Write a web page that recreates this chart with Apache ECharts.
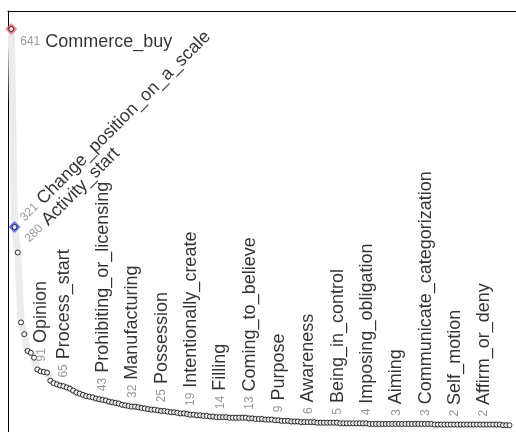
<!DOCTYPE html>
<html><head><meta charset="utf-8">
<script src="https://cdn.jsdelivr.net/npm/echarts@6/dist/echarts.min.js"></script>
<style>html,body{margin:0;padding:0;background:#fff}#c{width:516px;height:432px}</style>
</head><body><div id="c"></div>
<script>
// frequency of each frame, ranked
const values = [641,321,280,167,148,121,118,110,91,88,
87,86,73,69,67,65,64,62,60,57,
54,52,50,48,47,46,44,43,42,41,
39,38,37,36,34,33,32,31,31,30,
29,28,27,26,26,25,24,24,23,22,
22,21,20,20,19,18,18,17,17,16,
16,15,15,14,14,14,14,13,13,13,
13,13,13,12,12,11,11,11,10,10,
10,9,9,8,8,8,7,7,7,6,
6,6,6,6,5,5,5,5,5,5,
5,4,4,4,4,4,4,4,4,4,
3,3,3,3,3,3,3,3,3,3,
3,3,3,3,3,3,3,3,3,3,
2,2,2,2,2,2,2,2,2,2,
2,2,2,2,2,2,2,2,2,2,
2,1,1,1];
const labelIndex = [0,1,2,8,15,27,36,45,54,63,72,81,90,99,108,117,126,135,144];
const labelNames = ['Commerce_buy','Change_position_on_a_scale','Activity_start','Opinion','Process_start',
  'Prohibiting_or_licensing','Manufacturing','Possession','Intentionally_create','Filling',
  'Coming_to_believe','Purpose','Awareness','Being_in_control','Imposing_obligation','Aiming',
  'Communicate_categorization','Self_motion','Affirm_or_deny'];
const highlightNames = ['Commerce_buy','Change_position_on_a_scale'];
const highlightColors = ['#ee6470','#4a58f0'];

const FONT = 'Liberation Sans, Arial, sans-serif';
const rich = {
  n: {fontSize: 12, color: '#808080', fontFamily: FONT},
  t: {fontSize: 18, color: '#000', fontFamily: FONT}
};
function labelFor(k) {
  const base = {show: true, rich: rich, formatter: '{n|' + values[labelIndex[k]] + '}{t| ' + labelNames[k] + '}',
    align: 'left', verticalAlign: 'middle'};
  if (k === 0) return Object.assign(base, {position: 'right', distance: 6, offset: [0, 13], rotate: 0});
  if (k === 1) return Object.assign(base, {position: 'top', distance: 4, offset: [6, 5], rotate: 45});
  if (k === 2) return Object.assign(base, {position: 'top', distance: 4, offset: [10, 3], rotate: 45});
  return Object.assign(base, {position: 'top', distance: 5, offset: [0, 4], rotate: 90});
}
const pts = values.map((v, i) => {
  const k = labelIndex.indexOf(i);
  const d = {value: [i, v]};
  if (k >= 0) d.label = labelFor(k);
  return d;
});
const hl = highlightNames.map((nm, j) => {
  const i = labelIndex[labelNames.indexOf(nm)];
  return {value: [i, values[i]], itemStyle: {color: highlightColors[j]}};
});

const chart = echarts.init(document.getElementById('c'));
chart.setOption({
  animation: false,
  grid: {left: 8, right: 0, top: 11, bottom: 0},
  xAxis: {type: 'value', position: 'top', min: -1, max: 155,
    axisLine: {show: true, onZero: false, lineStyle: {color: '#000', width: 1}}, axisTick: {show: false},
    axisLabel: {show: false}, splitLine: {show: false}},
  yAxis: {type: 'value', min: -10, max: 670,
    axisLine: {show: true, onZero: false, lineStyle: {color: '#000', width: 1}}, axisTick: {show: false},
    axisLabel: {show: false}, splitLine: {show: false}},
  series: [
    {type: 'line', data: values.map((v, i) => [i, v]), symbol: 'none', silent: true, z: 1,
      lineStyle: {color: '#ececec', width: 7}},
    {type: 'scatter', data: hl, symbol: 'diamond', symbolSize: 12, z: 2, silent: true},
    {type: 'scatter', data: pts, symbol: 'circle', symbolSize: 5, z: 3, silent: true,
      itemStyle: {color: '#fff', borderColor: '#000', borderWidth: 1}}
  ]
});
</script>
</body></html>
